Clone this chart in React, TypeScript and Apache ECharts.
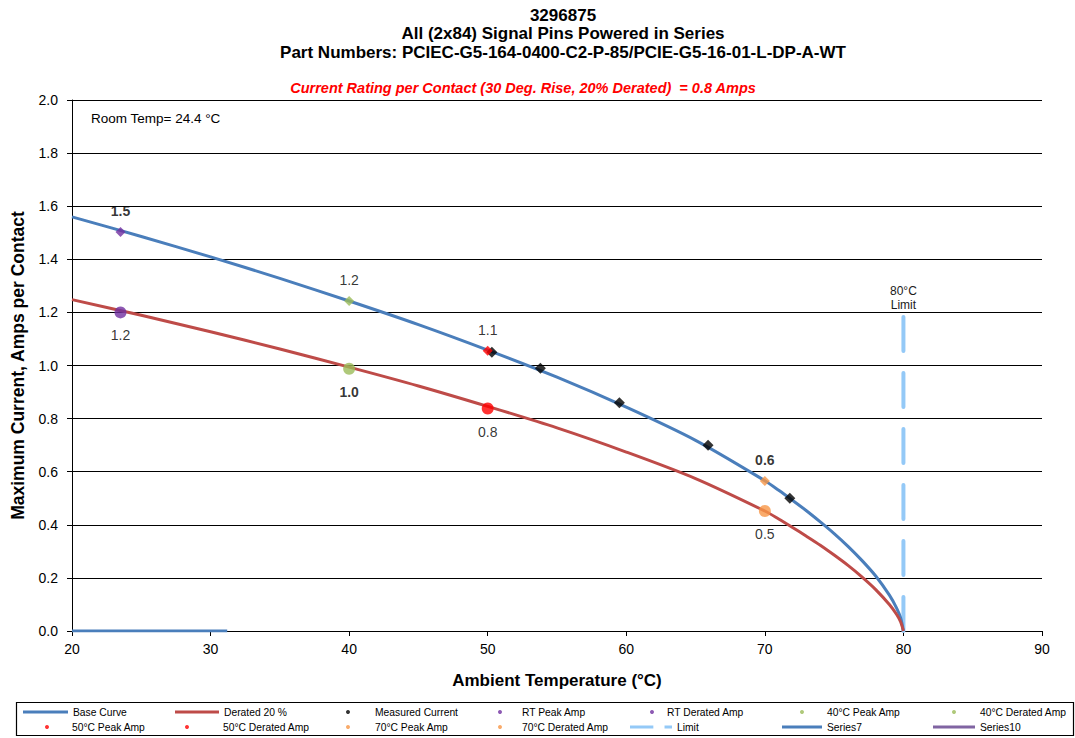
import { useEffect, useRef } from 'react';
import * as echarts from 'echarts';

// Derating curves: ambient temperature (°C) vs maximum current per contact (A)
const curveTemps = [20, 25, 30, 35, 40, 45, 50, 55, 60, 65, 70, 71, 72, 73, 74, 75, 76, 77, 78, 79, 79.5, 79.8, 80];
const baseCurveAmps = [1.56, 1.486, 1.409, 1.328, 1.243, 1.154, 1.058, 0.956, 0.843, 0.718, 0.566, 0.53, 0.492, 0.453, 0.411, 0.367, 0.319, 0.266, 0.207, 0.134, 0.087, 0.049, 0];
const deratedAmps = [1.248, 1.189, 1.127, 1.062, 0.994, 0.923, 0.846, 0.765, 0.674, 0.574, 0.452, 0.422, 0.39, 0.357, 0.323, 0.286, 0.247, 0.204, 0.156, 0.099, 0.063, 0.034, 0];

// Measured test points
const measuredTemps = [50.3, 53.8, 59.5, 65.9, 71.8];
const measuredAmps = [1.05, 0.99, 0.86, 0.7, 0.5];

// Peak / derated reference points
const pointNames = [
  'RT Peak Amp', 'RT Derated Amp',
  '40°C Peak Amp', '40°C Derated Amp',
  '50°C Peak Amp', '50°C Derated Amp',
  '70°C Peak Amp', '70°C Derated Amp',
];
const pointTemps = [23.5, 23.5, 40, 40, 50, 50, 70, 70];
const pointAmps = [1.503, 1.2, 1.243, 0.988, 1.056, 0.838, 0.565, 0.452];

// 80 °C limit marker and the flat Series7 segment
const limitTemps = [80, 80];
const limitAmps = [0, 1.2];
const series7Temps = [20, 31.2];
const series7Amps = [0, 0];

const titleLines = [
  '3296875',
  'All (2x84) Signal Pins Powered in Series',
  'Part Numbers: PCIEC-G5-164-0400-C2-P-85/PCIE-G5-16-01-L-DP-A-WT',
];
const ratingText = 'Current Rating per Contact (30 Deg. Rise, 20% Derated)  = 0.8 Amps';
const roomTempText = 'Room Temp= 24.4 °C';

const FONT = '"Liberation Sans", Arial, Helvetica, sans-serif';

const pointColors = ['#7030A0', '#7030A0', '#9BBB59', '#9BBB59', '#FF0000', '#FF0000', '#F79646', '#F79646'];
const pointSymbols = ['diamond', 'circle', 'diamond', 'circle', 'diamond', 'circle', 'diamond', 'circle'];
const pointLabelPos = ['top', 'bottom', 'top', 'bottom', 'top', 'bottom', 'top', 'bottom'];
const pointLabelBold = [true, false, false, true, false, false, true, false];

const zip = (xs: number[], ys: number[]) => xs.map((x, i) => [x, ys[i]]);

const LIMIT_ICON = 'path://M0,0h25v3h-25z M37,0h8v3h-8z';

// legend layout: one legend block per entry, arranged in two rows
const legendSpecs = [
  { name: 'Base Curve', left: 23, w: 45, row: 0, icon: 'rect' },
  { name: 'Derated 20 %', left: 175, w: 44, row: 0, icon: 'rect' },
  { name: 'Measured Current', left: 346, w: 44, row: 0, icon: 'circle' },
  { name: 'RT Peak Amp', left: 498, w: 34, row: 0, icon: 'circle' },
  { name: 'RT Derated Amp', left: 650, w: 20, row: 0, icon: 'circle' },
  { name: '40°C Peak Amp', left: 800, w: 40, row: 0, icon: 'circle' },
  { name: '40°C Derated Amp', left: 952, w: 42, row: 0, icon: 'circle' },
  { name: '50°C Peak Amp', left: 45, w: 40, row: 1, icon: 'circle' },
  { name: '50°C Derated Amp', left: 185, w: 62, row: 1, icon: 'circle' },
  { name: '70°C Peak Amp', left: 346, w: 44, row: 1, icon: 'circle' },
  { name: '70°C Derated Amp', left: 498, w: 34, row: 1, icon: 'circle' },
  { name: 'Limit', left: 630, w: 42, row: 1, icon: LIMIT_ICON },
  { name: 'Series7', left: 782, w: 40, row: 1, icon: 'rect' },
  { name: 'Series10', left: 933, w: 42, row: 1, icon: 'rect' },
];

export default function App() {
  const ref = useRef<HTMLDivElement>(null);

  useEffect(() => {
    if (!ref.current) return;
    const chart = echarts.init(ref.current, undefined, { renderer: 'svg' });

    const pointSeries = pointNames.map((name, i) => ({
      name,
      type: 'scatter',
      data: [[pointTemps[i], pointAmps[i]]],
      symbol: pointSymbols[i],
      symbolSize: pointSymbols[i] === 'circle' ? 12 : 10,
      itemStyle: { color: pointColors[i] },
      z: 5,
      label: {
        show: true,
        position: pointLabelPos[i],
        distance: pointLabelPos[i] === 'top' ? 9 : 10,
        formatter: (p: any) => Number(p.value[1]).toFixed(1),
        fontSize: 14,
        fontFamily: FONT,
        fontWeight: pointLabelBold[i] ? 'bold' : 'normal',
        color: '#000',
      },
    }));

    const option: any = {
      animation: false,
      backgroundColor: '#ffffff',
      textStyle: { fontFamily: FONT },
      grid: { left: 72, right: 33, top: 100, bottom: 107, containLabel: false },
      xAxis: {
        type: 'value',
        min: 20,
        max: 90,
        interval: 10,
        name: 'Ambient Temperature (°C)',
        nameLocation: 'middle',
        nameGap: 41,
        nameTextStyle: { fontSize: 17, fontWeight: 'bold', color: '#000', fontFamily: FONT },
        axisLine: { show: true, onZero: false, lineStyle: { color: '#000', width: 1 } },
        axisTick: { show: true, length: 5, lineStyle: { color: '#000' } },
        axisLabel: { fontSize: 14, color: '#000', margin: 11, fontFamily: FONT },
        splitLine: { show: false },
      },
      yAxis: {
        type: 'value',
        min: 0,
        max: 2,
        interval: 0.2,
        name: 'Maximum Current, Amps per Contact',
        nameLocation: 'middle',
        nameGap: 45,
        nameTextStyle: { fontSize: 17.5, fontWeight: 'bold', color: '#000', fontFamily: FONT },
        axisLine: { show: true, lineStyle: { color: '#000', width: 1 } },
        axisTick: { show: true, length: 5, lineStyle: { color: '#000' } },
        axisLabel: {
          fontSize: 14,
          color: '#000',
          margin: 14,
          fontFamily: FONT,
          formatter: (v: number) => v.toFixed(1),
        },
        splitLine: { show: true, lineStyle: { color: '#000', width: 1 } },
      },
      legend: legendSpecs.map((s) => ({
        data: [{ name: s.name, icon: s.icon }],
        left: s.left,
        top: s.row === 0 ? 707 : 722,
        padding: 0,
        itemWidth: s.w,
        itemHeight: s.icon === 'circle' ? 4 : 3,
        selectedMode: false,
        textStyle: { fontSize: 10.3, color: '#000', fontFamily: FONT },
      })),
      graphic: [
        ...titleLines.map((t, i) => ({
          type: 'text',
          x: 563,
          y: 15 + i * 18.5,
          style: {
            text: t,
            align: 'center',
            verticalAlign: 'middle',
            textAlign: 'center',
            textVerticalAlign: 'middle',
            fontSize: 17,
            fontWeight: 'bold',
            fontFamily: FONT,
            fill: '#000',
          },
        })),
        {
          type: 'text',
          x: 523,
          y: 88,
          style: {
            text: ratingText,
            align: 'center',
            verticalAlign: 'middle',
            textAlign: 'center',
            textVerticalAlign: 'middle',
            fontSize: 14.5,
            fontWeight: 'bold',
            fontStyle: 'italic',
            fontFamily: FONT,
            fill: '#FF0000',
          },
        },
        {
          type: 'text',
          x: 91,
          y: 118,
          style: {
            text: roomTempText,
            align: 'left',
            verticalAlign: 'middle',
            textAlign: 'left',
            textVerticalAlign: 'middle',
            fontSize: 13.5,
            fontFamily: FONT,
            fill: '#000',
          },
        },
        {
          type: 'rect',
          shape: { x: 16.5, y: 702.5, width: 1057, height: 33 },
          style: { fill: 'none', stroke: '#000', lineWidth: 1.2 },
        },
      ],
      series: [
        {
          name: 'Base Curve',
          type: 'line',
          data: zip(curveTemps, baseCurveAmps),
          smooth: 0.3,
          showSymbol: false,
          symbol: 'none',
          lineStyle: { color: '#4A7EBB', width: 3 },
          itemStyle: { color: '#4A7EBB' },
          z: 3,
        },
        {
          name: 'Derated 20 %',
          type: 'line',
          data: zip(curveTemps, deratedAmps),
          smooth: 0.3,
          showSymbol: false,
          symbol: 'none',
          lineStyle: { color: '#BE4B48', width: 3 },
          itemStyle: { color: '#BE4B48' },
          z: 3,
        },
        {
          name: 'Measured Current',
          type: 'scatter',
          data: zip(measuredTemps, measuredAmps),
          symbol: 'diamond',
          symbolSize: 11,
          itemStyle: { color: '#000000' },
          z: 4,
        },
        ...pointSeries,
        {
          name: 'Limit',
          type: 'line',
          data: [
            [limitTemps[0], limitAmps[0]],
            {
              value: [limitTemps[1], limitAmps[1]],
              label: {
                show: true,
                position: 'top',
                distance: 0,
                formatter: '80°C\nLimit',
                fontSize: 12,
                lineHeight: 14,
                color: '#1a1a1a',
                fontFamily: FONT,
              },
            },
          ],
          showSymbol: true,
          symbol: 'circle',
          symbolSize: 0,
          lineStyle: { color: '#94C9F7', width: 4, type: [34, 22], cap: 'round' },
          itemStyle: { color: '#94C9F7' },
          z: 2,
        },
        {
          name: 'Series7',
          type: 'line',
          data: zip(series7Temps, series7Amps),
          showSymbol: false,
          symbol: 'none',
          lineStyle: { color: '#4A7EBB', width: 3 },
          itemStyle: { color: '#4A7EBB' },
          z: 3,
        },
        {
          name: 'Series10',
          type: 'line',
          data: [],
          showSymbol: false,
          symbol: 'none',
          lineStyle: { color: '#8064A2', width: 3 },
          itemStyle: { color: '#8064A2' },
        },
      ],
    };

    chart.setOption(option);
    return () => chart.dispose();
  }, []);

  return (
    <div
      ref={ref}
      style={{ position: 'fixed', left: 0, top: 0, width: 1075, height: 738, background: '#fff' }}
    />
  );
}
